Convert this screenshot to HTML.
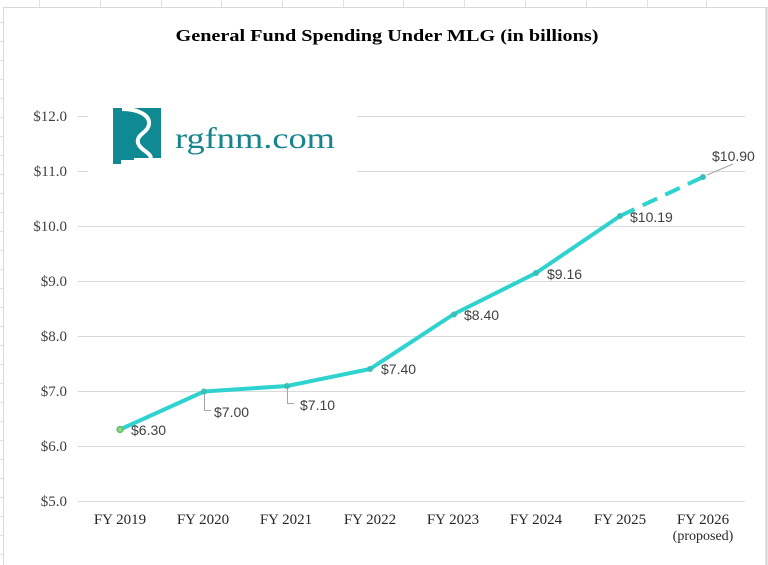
<!DOCTYPE html>
<html><head><meta charset="utf-8"><style>
html,body{margin:0;padding:0;background:#fff;}
svg{display:block;}
</style></head><body>
<svg width="768" height="565" viewBox="0 0 768 565" xmlns="http://www.w3.org/2000/svg">
<rect x="0" y="0" width="768" height="565" fill="#ffffff"/>
<!-- spreadsheet grid behind -->
<g stroke="#e1e1e1" stroke-width="1">
<line x1="39.5" y1="0" x2="39.5" y2="7"/><line x1="100.5" y1="0" x2="100.5" y2="7"/><line x1="161.5" y1="0" x2="161.5" y2="7"/><line x1="221.5" y1="0" x2="221.5" y2="7"/><line x1="282.5" y1="0" x2="282.5" y2="7"/><line x1="343.5" y1="0" x2="343.5" y2="7"/><line x1="403.5" y1="0" x2="403.5" y2="7"/><line x1="464.5" y1="0" x2="464.5" y2="7"/><line x1="525.5" y1="0" x2="525.5" y2="7"/><line x1="586.5" y1="0" x2="586.5" y2="7"/><line x1="647.5" y1="0" x2="647.5" y2="7"/><line x1="706.5" y1="0" x2="706.5" y2="7"/>
<line x1="0" y1="22.5" x2="3" y2="22.5"/><line x1="0" y1="41.5" x2="3" y2="41.5"/><line x1="0" y1="60.5" x2="3" y2="60.5"/><line x1="0" y1="79.5" x2="3" y2="79.5"/><line x1="0" y1="98.5" x2="3" y2="98.5"/><line x1="0" y1="117.5" x2="3" y2="117.5"/><line x1="0" y1="136.5" x2="3" y2="136.5"/><line x1="0" y1="155.5" x2="3" y2="155.5"/><line x1="0" y1="174.5" x2="3" y2="174.5"/><line x1="0" y1="193.5" x2="3" y2="193.5"/><line x1="0" y1="212.5" x2="3" y2="212.5"/><line x1="0" y1="231.5" x2="3" y2="231.5"/><line x1="0" y1="250.5" x2="3" y2="250.5"/><line x1="0" y1="269.5" x2="3" y2="269.5"/><line x1="0" y1="288.5" x2="3" y2="288.5"/><line x1="0" y1="307.5" x2="3" y2="307.5"/><line x1="0" y1="326.5" x2="3" y2="326.5"/><line x1="0" y1="345.5" x2="3" y2="345.5"/><line x1="0" y1="364.5" x2="3" y2="364.5"/><line x1="0" y1="383.5" x2="3" y2="383.5"/><line x1="0" y1="402.5" x2="3" y2="402.5"/><line x1="0" y1="421.5" x2="3" y2="421.5"/><line x1="0" y1="440.5" x2="3" y2="440.5"/><line x1="0" y1="459.5" x2="3" y2="459.5"/><line x1="0" y1="478.5" x2="3" y2="478.5"/><line x1="0" y1="497.5" x2="3" y2="497.5"/><line x1="0" y1="516.5" x2="3" y2="516.5"/><line x1="0" y1="535.5" x2="3" y2="535.5"/><line x1="0" y1="554.5" x2="3" y2="554.5"/>
</g>
<!-- chart border -->
<line x1="3.5" y1="7" x2="3.5" y2="565" stroke="#d9d9d9" stroke-width="1"/>
<line x1="3" y1="7.5" x2="767" y2="7.5" stroke="#d9d9d9" stroke-width="1"/>
<line x1="766.5" y1="7" x2="766.5" y2="565" stroke="#d0d0d0" stroke-width="2"/>

<!-- title -->
<text x="387" y="41" text-anchor="middle" font-family="Liberation Serif, serif" font-weight="bold" font-size="17" fill="#000" textLength="423" lengthAdjust="spacingAndGlyphs">General Fund Spending Under MLG (in billions)</text>

<!-- gridlines -->
<g stroke="#d9d9d9" stroke-width="1">
<line x1="78" y1="116.5" x2="745" y2="116.5"/>
<line x1="78" y1="171.5" x2="745" y2="171.5"/>
<line x1="78" y1="226.5" x2="745" y2="226.5"/>
<line x1="78" y1="281.5" x2="745" y2="281.5"/>
<line x1="78" y1="336.5" x2="745" y2="336.5"/>
<line x1="78" y1="391.5" x2="745" y2="391.5"/>
<line x1="78" y1="446.5" x2="745" y2="446.5"/>
<line x1="78" y1="501.5" x2="745" y2="501.5"/>
</g>

<!-- y labels -->
<g font-family="Liberation Serif, serif" font-size="15" fill="#404040" text-anchor="end">
<text x="67" y="121">$12.0</text>
<text x="67" y="176">$11.0</text>
<text x="67" y="231">$10.0</text>
<text x="67" y="286">$9.0</text>
<text x="67" y="341">$8.0</text>
<text x="67" y="396">$7.0</text>
<text x="67" y="451">$6.0</text>
<text x="67" y="506">$5.0</text>
</g>

<!-- x labels -->
<g font-family="Liberation Serif, serif" font-size="15" fill="#262626" text-anchor="middle">
<text x="120" y="524">FY 2019</text>
<text x="203" y="524">FY 2020</text>
<text x="286" y="524">FY 2021</text>
<text x="370" y="524">FY 2022</text>
<text x="453" y="524">FY 2023</text>
<text x="536" y="524">FY 2024</text>
<text x="620" y="524">FY 2025</text>
<text x="703" y="524">FY 2026</text>
<text x="703" y="540" font-size="14">(proposed)</text>
</g>

<!-- logo box -->
<rect x="88" y="82" width="269" height="106" fill="#ffffff"/>
<polygon points="113,108 161,108 161,158 134,158 134,160 121,160 121,164 113,164" fill="#0f8a93"/>
<path d="M122 109 C138 109 150 115 149 124 C148 133 136 134 138 143 C140 150 150 152 151 158" fill="none" stroke="#ffffff" stroke-width="4" stroke-linecap="butt"/>
<text x="175" y="148" font-family="Liberation Serif, serif" font-size="30" fill="#17858d" textLength="160" lengthAdjust="spacingAndGlyphs">rgfnm.com</text>

<!-- leader lines -->
<g stroke="#a6a6a6" stroke-width="1" fill="none">
<polyline points="204.5,394 204.5,410.5 211,410.5"/>
<polyline points="287.5,388 287.5,403.5 294,403.5"/>
<line x1="707" y1="175" x2="733" y2="164"/>
</g>

<!-- series -->
<polyline points="120,429.5 204,391.5 287,386 370,369 454,314 536,273 620,216" fill="none" stroke="#2ed3cf" stroke-width="4" stroke-linejoin="round" stroke-linecap="round"/>
<line x1="620" y1="216" x2="703" y2="177" stroke="#2ed3cf" stroke-width="4" stroke-dasharray="16 9"/>

<!-- markers -->
<g fill="#3bbfb9" stroke="#3bbfb9" stroke-width="1">
<circle cx="204" cy="391.5" r="2.5"/>
<circle cx="287" cy="386" r="2.5"/>
<circle cx="370" cy="369" r="2.5"/>
<circle cx="454" cy="314.5" r="2.5"/>
<circle cx="536" cy="273" r="2.5"/>
<circle cx="620" cy="216" r="2.5"/>
<circle cx="703" cy="177" r="2.5"/>
</g>
<circle cx="120" cy="429.5" r="3" fill="#8fd38a" stroke="#5cb85c" stroke-width="1.2"/>

<!-- data labels -->
<g font-family="Liberation Sans, sans-serif" font-size="14" fill="#404040">
<text x="131" y="435">$6.30</text>
<text x="214" y="417">$7.00</text>
<text x="300" y="410">$7.10</text>
<text x="381" y="374">$7.40</text>
<text x="464" y="320">$8.40</text>
<text x="547" y="279">$9.16</text>
<text x="630" y="222">$10.19</text>
<text x="712" y="161">$10.90</text>
</g>
</svg>
</body></html>
